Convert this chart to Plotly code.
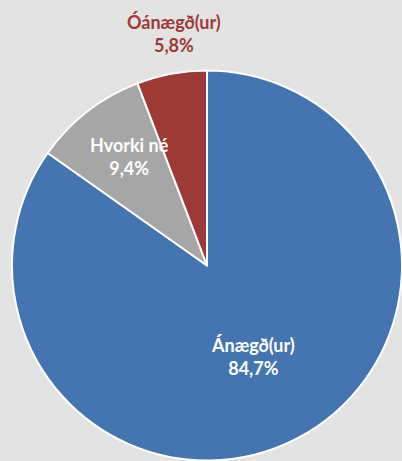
import plotly.graph_objects as go

labels = ["Ánægð(ur)", "Hvorki né", "Óánægð(ur)"]
values = [84.7, 9.4, 5.8]
colors = ["#4575B0", "#A6A6A6", "#9E3A36"]
label_colors = ["white", "white", "#9E3A36"]
# label centers (pixels from top-left) for the annotation text
label_pos = [(253, 356), (129, 157), (174, 33)]

W, H = 402, 461
fig = go.Figure(go.Pie(
    labels=labels, values=values, sort=False, direction="clockwise",
    rotation=0, marker=dict(colors=colors, line=dict(color="white", width=2)),
    textinfo="none", hoverinfo="label+percent", showlegend=False,
    domain=dict(x=[12/W, 1.0], y=[0, 391/H]),
))

for lab, val, col, (px, py) in zip(labels, values, label_colors, label_pos):
    txt = f"{lab}<br>{val:.1f}%".replace(".", ",")
    fig.add_annotation(x=px/W, y=1-py/H, xref="paper", yref="paper",
                       xanchor="center", yanchor="middle",
                       text=txt, showarrow=False, align="center",
                       font=dict(family="Lato", size=18, color=col, weight="bold"))

fig.update_layout(width=W, height=H, margin=dict(l=0, r=0, t=0, b=0),
                  paper_bgcolor="#E3E3E3", plot_bgcolor="#E3E3E3")
fig.write_html("out.html", config={"displayModeBar": False},
               post_script="document.body.style.margin='0';document.body.style.overflow='hidden';")
